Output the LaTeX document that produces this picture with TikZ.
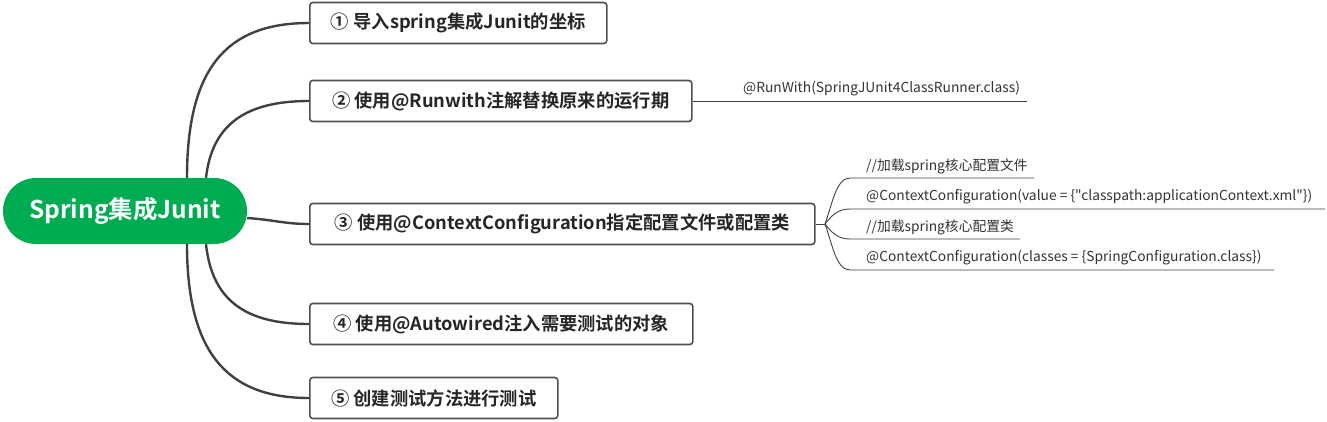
\documentclass[tikz,border=0pt]{standalone}
\usepackage{fontspec}
\setmainfont{Noto Sans CJK SC}[BoldFont={Noto Sans CJK SC Bold}]
\newfontfamily\leaffont{Noto Sans CJK SC}[Ligatures=TeXOff]
\definecolor{rootgreen}{RGB}{0,172,82}
\definecolor{edgegray}{RGB}{64,64,64}
\definecolor{boxgray}{RGB}{80,80,80}
\begin{document}
\begin{tikzpicture}[x=1pt,y=-1pt,
  rootnode/.style={fill=rootgreen,rounded corners=33pt,minimum width=244pt,minimum height=66pt,
    text=white,font=\fontsize{24.5}{29}\selectfont\bfseries,inner sep=0pt},
  topic/.style={draw=boxgray,line width=1.6pt,rounded corners=3pt,minimum height=41pt,anchor=west,
    font=\fontsize{18.3}{21}\selectfont\bfseries,text=black!85,inner sep=0pt},
  leaf/.style={anchor=west,font=\leaffont\fontsize{13.8}{16}\selectfont,text=black!80,inner sep=0pt},
  mainedge/.style={draw=edgegray,line width=2.4pt},
  thinedge/.style={draw=edgegray,line width=0.9pt}]
\useasboundingbox (0,0) rectangle (1327,421);

\node[rootnode] (root) at (125,211) {Spring集成Junit};

\node[topic,minimum width=297pt] (n1) at (309,23) {① 导入spring集成Junit的坐标};
\node[topic,minimum width=382pt] (n2) at (309,101) {② 使用@Runwith注解替换原来的运行期};
\node[topic,minimum width=505pt] (n3) at (309,224) {③ 使用@ContextConfiguration指定配置文件或配置类};
\node[topic,minimum width=383pt] (n4) at (309,324) {④ 使用@Autowired注入需要测试的对象};
\node[topic,minimum width=248pt] (n5) at (309,398) {⑤ 创建测试方法进行测试};

% root connectors
\draw[mainedge] ([xshift=62pt]root.north) .. controls (187,70) and (225,23) .. (n1.west);
\draw[mainedge] ([xshift=81pt]root.north) .. controls (212,125) and (245,101) .. (n2.west);
\draw[mainedge] ([yshift=-7pt]root.east) .. controls (275,220) and (285,224) .. (n3.west);
\draw[mainedge] ([xshift=81pt]root.south) .. controls (212,300) and (245,324) .. (n4.west);
\draw[mainedge] ([xshift=62pt]root.south) .. controls (187,350) and (225,398) .. (n5.west);

% node 2 child
\node[leaf] (c21) at (743,89) {@RunWith(SpringJUnit4ClassRunner.class)};
\coordinate (c21e) at (1027,101);
\draw[thinedge] (n2.east) -- (c21e);

% node 3 children
\coordinate (hub) at (825,224);
\draw[thinedge] (n3.east) -- (hub);
\node[leaf] (c31) at (866,166) {//加载spring核心配置文件};
\node[leaf] (c32) at (866,197) {@ContextConfiguration(value = \{"classpath:applicationContext.xml"\})};
\node[leaf] (c33) at (866,227) {//加载spring核心配置类};
\node[leaf] (c34) at (866,258) {@ContextConfiguration(classes = \{SpringConfiguration.class\})};
\coordinate (c31e) at (1034,178);
\coordinate (c32e) at (1325,209);
\coordinate (c33e) at (1020,239);
\coordinate (c34e) at (1274,270);
\draw[thinedge] (hub) .. controls (832,205) and (836,178) .. (850,178) -- (c31e);
\draw[thinedge] (hub) .. controls (832,215) and (838,209) .. (850,209) -- (c32e);
\draw[thinedge] (hub) .. controls (832,233) and (838,239) .. (850,239) -- (c33e);
\draw[thinedge] (hub) .. controls (832,243) and (836,270) .. (850,270) -- (c34e);
\end{tikzpicture}
\end{document}
